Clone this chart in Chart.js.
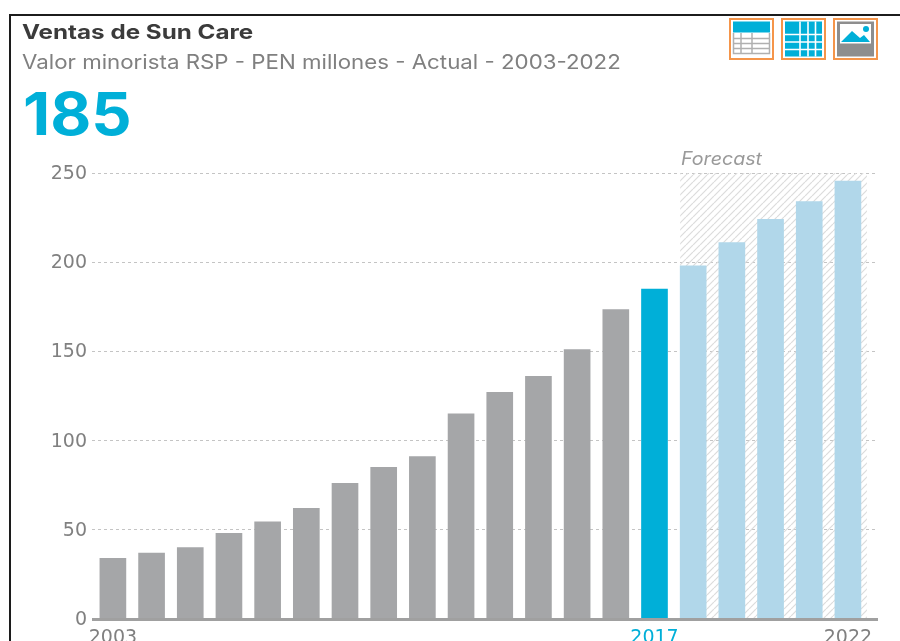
<!DOCTYPE html>
<html>
<head>
<meta charset="utf-8">
<script src="https://cdn.jsdelivr.net/npm/chart.js@4"></script>
<style>
  html, body { margin: 0; padding: 0; background: #fff; overflow: hidden; }
  #wrap { position: relative; width: 900px; height: 641px; overflow: hidden; font-family: Inter, sans-serif; }
  #wrap canvas { position: absolute; left: 0; top: 0; }
  .frame-top { position: absolute; left: 9px; top: 14px; right: 0; height: 2px; background: #1c1c1c; }
  .frame-left { position: absolute; left: 9px; top: 14px; bottom: 0; width: 2px; background: #1c1c1c; }
  .txt { position: absolute; white-space: nowrap; line-height: 1; transform-origin: left center; }
  #title { left: 22px; top: 22px; font-size: 20px; font-weight: 700; color: #3b3b3b; transform: scaleX(1.21); }
  #subtitle { left: 22px; top: 52px; font-size: 20px; color: #808080; transform: scaleX(1.114); }
  #big { left: 23px; top: 84px; font-size: 59px; font-weight: 700; color: #00afd8; transform: scaleX(1.07); }
  #forecast { left: 681px; top: 150px; font-size: 18px; font-style: italic; color: #9a9a9a; transform: scaleX(1.09); }
  .icon { position: absolute; top: 18px; width: 45px; height: 42px; }
</style>
</head>
<body>
<div id="wrap">
  <canvas id="salesChart" width="900" height="641"></canvas>
  <div class="frame-top"></div>
  <div class="frame-left"></div>
  <div class="txt" id="title">Ventas de Sun Care</div>
  <div class="txt" id="subtitle">Valor minorista RSP - PEN millones - Actual - 2003-2022</div>
  <div class="txt" id="big">185</div>
  <div class="txt" id="forecast">Forecast</div>

  <svg class="icon" style="left:729px" viewBox="0 0 45 42">
    <rect x="1" y="1" width="43" height="40" fill="#fff" stroke="#f5954a" stroke-width="2"/>
    <rect x="4" y="3.5" width="37" height="11" fill="#00afd8"/>
    <path d="M4.5 15v20.5h36V15M4.5 20.5h36M4.5 25.5h36M4.5 30.5h36M12 15v20.5M23 15v20.5" fill="none" stroke="#b0b0b0" stroke-width="1.5"/>
  </svg>
  <svg class="icon" style="left:781px" viewBox="0 0 45 42">
    <rect x="1" y="1" width="43" height="40" fill="#fff" stroke="#f5954a" stroke-width="2"/>
    <rect x="4" y="3.5" width="37" height="35" fill="#00afd8"/>
    <path d="M4 16.5h37M4 24h37M4 31.5h37M19 3.5v35M27 3.5v35M34.500 3.5v35" fill="none" stroke="#fff" stroke-width="1.6"/>
  </svg>
  <svg class="icon" style="left:833px" viewBox="0 0 45 42">
    <rect x="1" y="1" width="43" height="40" fill="#fff" stroke="#f5954a" stroke-width="2"/>
    <rect x="4" y="3.500" width="37" height="35" fill="#8e8e8e"/>
    <rect x="7" y="6" width="31" height="19.500" fill="#fff"/>
    <path d="M8 24l11-11 8 7 4-3 6 7z" fill="#00afd8"/>
    <circle cx="33" cy="11" r="3" fill="#00afd8"/>
  </svg>
</div>

<script>
const years = [2003, 2004, 2005, 2006, 2007, 2008, 2009, 2010, 2011, 2012, 2013, 2014, 2015, 2016, 2017, 2018, 2019, 2020, 2021, 2022];
const sales = [34, 37, 40, 48, 54.5, 62, 76, 85, 91, 115, 127, 136, 151, 173.5, 185, 198, 211, 224, 234, 245.5];
const yTicks = [0, 50, 100, 150, 200, 250];
const xTicks = [2003, 2017, 2022];
const currentYear = 2017;

const GREY = '#a5a6a8';
const BLUE = '#00afd8';
const LIGHT = '#b1d7ea';

function barColor(year) {
  if (year < currentYear) return GREY;
  if (year === currentYear) return BLUE;
  return LIGHT;
}

// Diagonal hatch tile for the forecast area
function hatchPattern(ctx) {
  const tile = document.createElement('canvas');
  tile.width = 7;
  tile.height = 7;
  const t = tile.getContext('2d');
  t.strokeStyle = '#dcdcdc';
  t.lineWidth = 1.2;
  t.beginPath();
  for (let i = -7; i <= 14; i += 7) {
    t.moveTo(i, 7);
    t.lineTo(i + 7, 0);
  }
  t.stroke();
  return ctx.createPattern(tile, 'repeat');
}

// Hatch behind the forecast bars, from the first forecast year to the end of the last one
const forecastBand = {
  id: 'forecastBand',
  beforeDatasetsDraw(chart) {
    const { ctx, scales: { x, y } } = chart;
    const left = x.getPixelForValue(currentYear + 1) - 13;
    const right = x.getPixelForValue(years[years.length - 1]) + 19;
    ctx.save();
    ctx.fillStyle = hatchPattern(ctx);
    ctx.fillRect(left, y.getPixelForValue(250), right - left, y.getPixelForValue(0) - y.getPixelForValue(250));
    ctx.restore();
  }
};

// Baseline runs a little past the end of the grid
const baseLine = {
  id: 'baseLine',
  afterDatasetsDraw(chart) {
    const { ctx, chartArea, scales: { y } } = chart;
    const py = y.getPixelForValue(0);
    ctx.save();
    ctx.strokeStyle = '#a0a0a0';
    ctx.lineWidth = 3;
    ctx.beginPath();
    ctx.moveTo(chartArea.left, py + 0.5);
    ctx.lineTo(chartArea.right + 3, py + 0.5);
    ctx.stroke();
    ctx.restore();
  }
};

new Chart(document.getElementById('salesChart').getContext('2d'), {
  type: 'bar',
  data: {
    datasets: [{
      data: years.map((year, i) => ({ x: year, y: sales[i] })),
      backgroundColor: years.map(barColor),
      barThickness: 26
    }]
  },
  plugins: [forecastBand, baseLine],
  options: {
    responsive: false,
    animation: false,
    layout: { padding: { left: 0, top: 173, right: 25, bottom: 0 } },
    plugins: { legend: { display: false }, tooltip: { enabled: false } },
    scales: {
      x: {
        type: 'linear',
        offset: false,
        min: 2002.46,
        max: 2022.7,
        afterBuildTicks: scale => { scale.ticks = xTicks.map(value => ({ value })); },
        afterFit: scale => { scale.height = 22; },
        grid: { display: false },
        border: { display: false },
        ticks: {
          autoSkip: false,
          maxRotation: 0,
          padding: 0,
          font: { family: 'DejaVu Sans', size: 19 },
          color: ctx => ctx.tick.value === currentYear ? BLUE : '#808080',
          callback: value => String(value)
        }
      },
      y: {
        min: 0,
        max: 250,
        afterBuildTicks: scale => { scale.ticks = yTicks.map(value => ({ value })); },
        afterFit: scale => { scale.width = 92; },
        grid: { color: '#c4c4c4', lineWidth: 1, drawTicks: false },
        border: { display: false, dash: [3, 3] },
        ticks: {
          padding: 5,
          labelOffset: 1,
          font: { family: 'DejaVu Sans', size: 19 },
          color: '#808080'
        }
      }
    }
  }
});
</script>
</body>
</html>
